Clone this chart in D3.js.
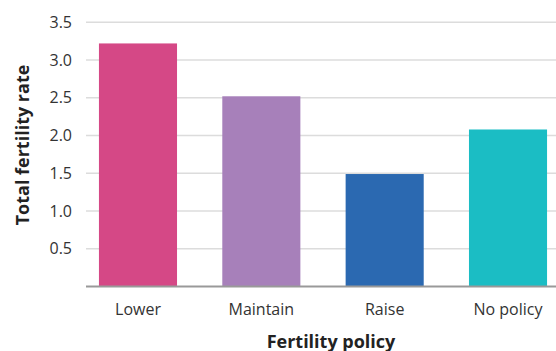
<!DOCTYPE html>
<html>
<head>
<meta charset="utf-8">
<script src="https://cdn.jsdelivr.net/npm/d3@7"></script>
<style>
  html, body { margin: 0; padding: 0; background: #fff; }
  svg { display: block; font-family: "Open Sans", sans-serif; }
</style>
</head>
<body>
<svg id="chart" width="556" height="351"></svg>
<script>
// Total fertility rate by national fertility policy
const categories = ["Lower", "Maintain", "Raise", "No policy"];
const values = [3.22, 2.52, 1.49, 2.08];
const colors = ["#D54886", "#A780BA", "#2B69B1", "#1BBDC4"];
const yTicks = [0.5, 1.0, 1.5, 2.0, 2.5, 3.0, 3.5];

const svg = d3.select("#chart");
const plot = { left: 86, right: 556, top: 22.3, bottom: 286.5 };

const x = d3.scaleBand()
  .domain(categories)
  .range([plot.left, 560])
  .paddingInner(0.367)
  .paddingOuter(0.105);

const y = d3.scaleLinear()
  .domain([0, 3.5])
  .range([plot.bottom, plot.top]);

// horizontal gridlines
svg.append("g")
  .selectAll("line")
  .data(yTicks)
  .join("line")
  .attr("x1", plot.left)
  .attr("x2", plot.right)
  .attr("y1", d => y(d))
  .attr("y2", d => y(d))
  .attr("stroke", "#dcdcdc")
  .attr("stroke-width", 1.5);

// y tick labels
svg.append("g")
  .selectAll("text")
  .data(yTicks)
  .join("text")
  .attr("x", 72)
  .attr("y", d => y(d))
  .attr("dy", "0.35em")
  .attr("text-anchor", "end")
  .attr("font-size", 16)
  .attr("fill", "#333")
  .text(d => d3.format(".1f")(d));

// bars
svg.append("g")
  .selectAll("rect")
  .data(categories)
  .join("rect")
  .attr("x", d => x(d))
  .attr("width", x.bandwidth())
  .attr("y", (d, i) => y(values[i]))
  .attr("height", (d, i) => y(0) - y(values[i]))
  .attr("fill", (d, i) => colors[i]);

// baseline
svg.append("line")
  .attr("x1", plot.left)
  .attr("x2", plot.right)
  .attr("y1", y(0))
  .attr("y2", y(0))
  .attr("stroke", "#999")
  .attr("stroke-width", 2);

// category labels
svg.append("g")
  .selectAll("text")
  .data(categories)
  .join("text")
  .attr("x", d => x(d) + x.bandwidth() / 2)
  .attr("y", 315)
  .attr("text-anchor", "middle")
  .attr("font-size", 16)
  .attr("fill", "#333")
  .text(d => d);

// axis titles
svg.append("text")
  .attr("x", 331)
  .attr("y", 347.5)
  .attr("text-anchor", "middle")
  .attr("font-size", 18)
  .attr("font-weight", "bold")
  .attr("fill", "#222")
  .text("Fertility policy");

svg.append("text")
  .attr("transform", "translate(29,145) rotate(-90)")
  .attr("text-anchor", "middle")
  .attr("font-size", 18)
  .attr("font-weight", "bold")
  .attr("fill", "#222")
  .text("Total fertility rate");
</script>
</body>
</html>
